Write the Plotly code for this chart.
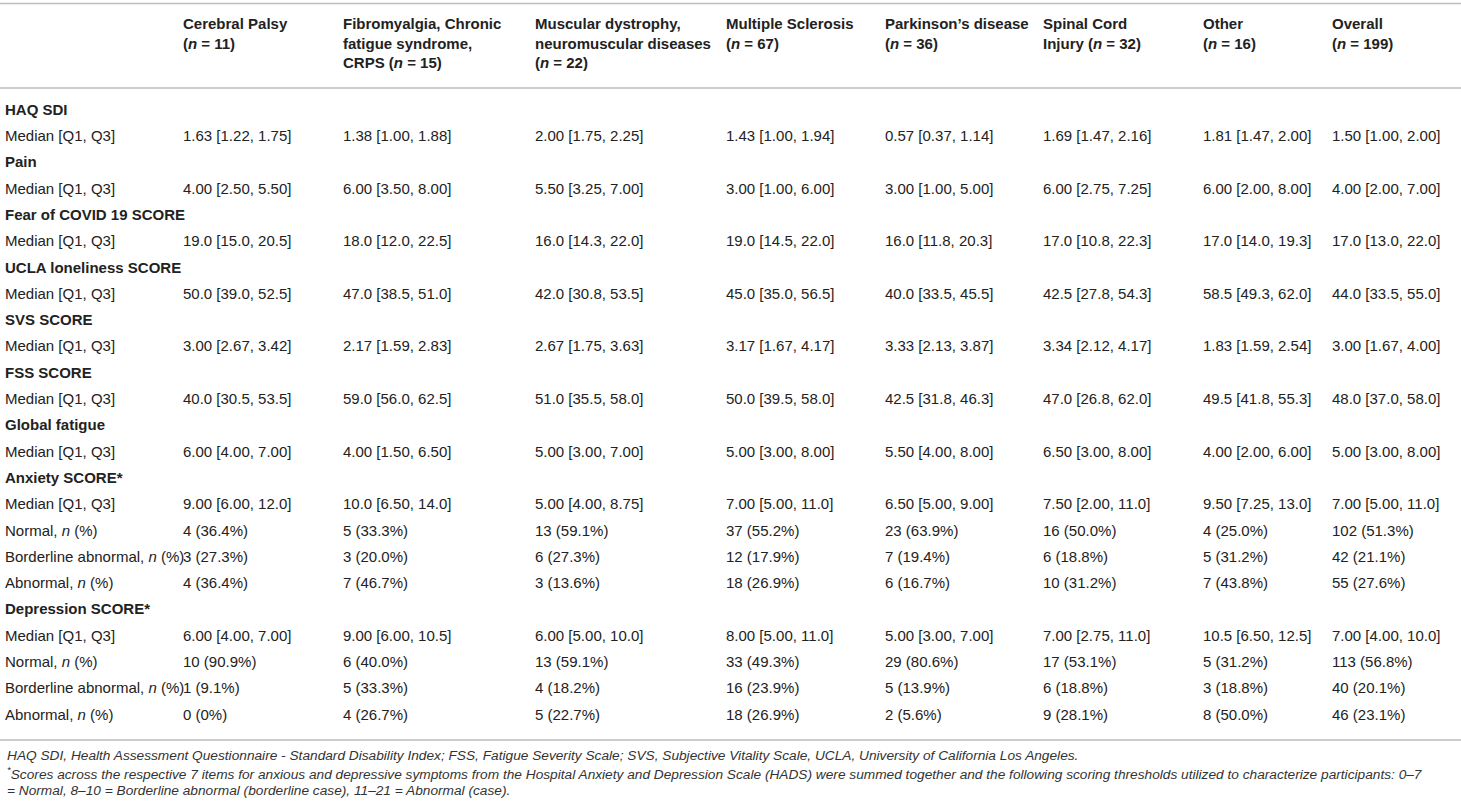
import plotly.graph_objects as go

groups = ["Cerebral Palsy<br>(<i>n</i> = 11)",
          "Fibromyalgia, Chronic<br>fatigue syndrome,<br>CRPS (<i>n</i> = 15)",
          "Muscular dystrophy,<br>neuromuscular diseases<br>(<i>n</i> = 22)",
          "Multiple Sclerosis<br>(<i>n</i> = 67)",
          "Parkinson’s disease<br>(<i>n</i> = 36)",
          "Spinal Cord<br>Injury (<i>n</i> = 32)",
          "Other<br>(<i>n</i> = 16)",
          "Overall<br>(<i>n</i> = 199)"]

haq_sdi = ["1.63 [1.22, 1.75]", "1.38 [1.00, 1.88]", "2.00 [1.75, 2.25]", "1.43 [1.00, 1.94]",
           "0.57 [0.37, 1.14]", "1.69 [1.47, 2.16]", "1.81 [1.47, 2.00]", "1.50 [1.00, 2.00]"]
pain = ["4.00 [2.50, 5.50]", "6.00 [3.50, 8.00]", "5.50 [3.25, 7.00]", "3.00 [1.00, 6.00]",
        "3.00 [1.00, 5.00]", "6.00 [2.75, 7.25]", "6.00 [2.00, 8.00]", "4.00 [2.00, 7.00]"]
fear_covid = ["19.0 [15.0, 20.5]", "18.0 [12.0, 22.5]", "16.0 [14.3, 22.0]", "19.0 [14.5, 22.0]",
              "16.0 [11.8, 20.3]", "17.0 [10.8, 22.3]", "17.0 [14.0, 19.3]", "17.0 [13.0, 22.0]"]
ucla = ["50.0 [39.0, 52.5]", "47.0 [38.5, 51.0]", "42.0 [30.8, 53.5]", "45.0 [35.0, 56.5]",
        "40.0 [33.5, 45.5]", "42.5 [27.8, 54.3]", "58.5 [49.3, 62.0]", "44.0 [33.5, 55.0]"]
svs = ["3.00 [2.67, 3.42]", "2.17 [1.59, 2.83]", "2.67 [1.75, 3.63]", "3.17 [1.67, 4.17]",
       "3.33 [2.13, 3.87]", "3.34 [2.12, 4.17]", "1.83 [1.59, 2.54]", "3.00 [1.67, 4.00]"]
fss = ["40.0 [30.5, 53.5]", "59.0 [56.0, 62.5]", "51.0 [35.5, 58.0]", "50.0 [39.5, 58.0]",
       "42.5 [31.8, 46.3]", "47.0 [26.8, 62.0]", "49.5 [41.8, 55.3]", "48.0 [37.0, 58.0]"]
global_fatigue = ["6.00 [4.00, 7.00]", "4.00 [1.50, 6.50]", "5.00 [3.00, 7.00]", "5.00 [3.00, 8.00]",
                  "5.50 [4.00, 8.00]", "6.50 [3.00, 8.00]", "4.00 [2.00, 6.00]", "5.00 [3.00, 8.00]"]
anx_median = ["9.00 [6.00, 12.0]", "10.0 [6.50, 14.0]", "5.00 [4.00, 8.75]", "7.00 [5.00, 11.0]",
              "6.50 [5.00, 9.00]", "7.50 [2.00, 11.0]", "9.50 [7.25, 13.0]", "7.00 [5.00, 11.0]"]
anx_normal = ["4 (36.4%)", "5 (33.3%)", "13 (59.1%)", "37 (55.2%)",
              "23 (63.9%)", "16 (50.0%)", "4 (25.0%)", "102 (51.3%)"]
anx_border = ["3 (27.3%)", "3 (20.0%)", "6 (27.3%)", "12 (17.9%)",
              "7 (19.4%)", "6 (18.8%)", "5 (31.2%)", "42 (21.1%)"]
anx_abnormal = ["4 (36.4%)", "7 (46.7%)", "3 (13.6%)", "18 (26.9%)",
                "6 (16.7%)", "10 (31.2%)", "7 (43.8%)", "55 (27.6%)"]
dep_median = ["6.00 [4.00, 7.00]", "9.00 [6.00, 10.5]", "6.00 [5.00, 10.0]", "8.00 [5.00, 11.0]",
              "5.00 [3.00, 7.00]", "7.00 [2.75, 11.0]", "10.5 [6.50, 12.5]", "7.00 [4.00, 10.0]"]
dep_normal = ["10 (90.9%)", "6 (40.0%)", "13 (59.1%)", "33 (49.3%)",
              "29 (80.6%)", "17 (53.1%)", "5 (31.2%)", "113 (56.8%)"]
dep_border = ["1 (9.1%)", "5 (33.3%)", "4 (18.2%)", "16 (23.9%)",
              "5 (13.9%)", "6 (18.8%)", "3 (18.8%)", "40 (20.1%)"]
dep_abnormal = ["0 (0%)", "4 (26.7%)", "5 (22.7%)", "18 (26.9%)",
                "2 (5.6%)", "9 (28.1%)", "8 (50.0%)", "46 (23.1%)"]

MED = "Median [Q1, Q3]"
rows = [
    ("<b>HAQ SDI</b>", None), (MED, haq_sdi),
    ("<b>Pain</b>", None), (MED, pain),
    ("<b>Fear of COVID 19 SCORE</b>", None), (MED, fear_covid),
    ("<b>UCLA loneliness SCORE</b>", None), (MED, ucla),
    ("<b>SVS SCORE</b>", None), (MED, svs),
    ("<b>FSS SCORE</b>", None), (MED, fss),
    ("<b>Global fatigue</b>", None), (MED, global_fatigue),
    ("<b>Anxiety SCORE*</b>", None), (MED, anx_median),
    ("Normal, <i>n</i> (%)", anx_normal),
    ("Borderline abnormal, <i>n</i> (%)", anx_border),
    ("Abnormal, <i>n</i> (%)", anx_abnormal),
    ("<b>Depression SCORE*</b>", None), (MED, dep_median),
    ("Normal, <i>n</i> (%)", dep_normal),
    ("Borderline abnormal, <i>n</i> (%)", dep_border),
    ("Abnormal, <i>n</i> (%)", dep_abnormal),
]

footnotes = [
    "HAQ SDI, Health Assessment Questionnaire - Standard Disability Index; FSS, Fatigue Severity Scale; "
    "SVS, Subjective Vitality Scale, UCLA, University of California Los Angeles.",
    "<sup>*</sup>Scores across the respective 7 items for anxious and depressive symptoms from the Hospital "
    "Anxiety and Depression Scale (HADS) were summed together and the following scoring thresholds utilized "
    "to characterize participants: 0–7",
    "= Normal, 8–10 = Borderline abnormal (borderline case), 11–21 = Abnormal (case).",
]

# ---- layout constants (pixel axes) ----
W, H = 1461, 808
col_x = [5, 183, 343, 535, 726, 885, 1043, 1203, 1332]
row0, pitch = 111, 26.3
header_y = 18
rules_y = [3.5, 88, 740]
foot_y = [755, 773, 790]
FONT = "Liberation Sans, Arial, Helvetica, sans-serif"
TXT = "#222222"

row_y = [row0 + pitch * i for i in range(len(rows))]

fig = go.Figure()

# first column: row labels
fig.add_trace(go.Scatter(
    x=[col_x[0]] * len(rows), y=row_y, text=[r[0] for r in rows],
    mode="text", textposition="middle right",
    textfont=dict(family=FONT, size=15, color=TXT), hoverinfo="skip"))

# value columns
for j in range(len(groups)):
    ys = [row_y[i] for i, r in enumerate(rows) if r[1] is not None]
    ts = [r[1][j] for r in rows if r[1] is not None]
    fig.add_trace(go.Scatter(
        x=[col_x[j + 1]] * len(ys), y=ys, text=ts,
        mode="text", textposition="middle right",
        textfont=dict(family=FONT, size=15, color=TXT), hoverinfo="skip"))

# header
fig.add_trace(go.Scatter(
    x=col_x[1:], y=[header_y] * len(groups), text=["<b>" + g + "</b>" for g in groups],
    mode="text", textposition="bottom right",
    textfont=dict(family=FONT, size=15, color=TXT), hoverinfo="skip"))

for yv in rules_y:
    fig.add_shape(type="line", xref="x", yref="y", x0=0, x1=W, y0=yv, y1=yv,
                  line=dict(color="#bdbdbd", width=1.5))

for t, yv in zip(footnotes, foot_y):
    fig.add_annotation(x=col_x[0], y=yv, xref="x", yref="y", text="<i>" + t + "</i>",
                       showarrow=False, xanchor="left", yanchor="middle",
                       font=dict(family=FONT, size=13.7, color="#333333"))

fig.update_layout(
    width=W, height=H, autosize=False,
    margin=dict(l=0, r=0, t=0, b=0),
    paper_bgcolor="white", plot_bgcolor="white",
    showlegend=False,
    xaxis=dict(range=[0, W], visible=False, fixedrange=True),
    yaxis=dict(range=[H, 0], visible=False, fixedrange=True),
)

# drop the browser's default body margin so the figure sits at the window's corner
fig.write_html("out.html", config={"displayModeBar": False},
               post_script="document.body.style.margin='0';document.body.style.overflow='hidden';")
